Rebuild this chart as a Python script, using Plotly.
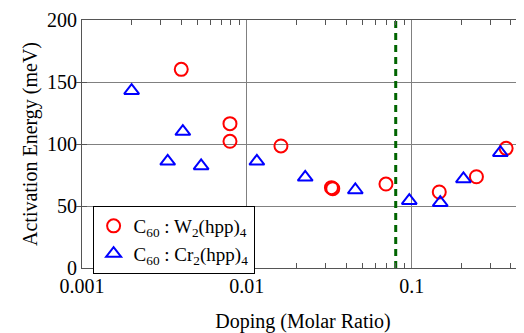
import math
import plotly.graph_objects as go

# Data
w_doping = [0.0040, 0.0079, 0.0079, 0.0161, 0.0326, 0.0332, 0.0698, 0.147, 0.247, 0.374]
w_energy = [160.2, 116.4, 102.2, 98.4, 64.8, 64.0, 67.7, 61.3, 73.6, 96.5]

cr_doping = [0.0020, 0.00331, 0.00409, 0.00528, 0.0115, 0.0226, 0.0455, 0.0967, 0.149, 0.206, 0.345]
cr_energy = [143.0, 86.0, 110.0, 82.3, 86.0, 73.1, 62.9, 54.3, 52.7, 71.8, 93.0]

threshold_doping = 0.08
y_limits = [0, 200]

x_tickvals = [0.001, 0.01, 0.1]
x_ticktext = ["0.001", "0.01", "0.1"]
x_minor = [m * 10 ** e for e in (-3, -2, -1) for m in range(2, 10)]

serif = "Liberation Serif, Times New Roman, serif"
fs = 20
x_range = [-3, math.log10(0.48)]

fig = go.Figure()

fig.add_trace(go.Scatter(
    x=[threshold_doping, threshold_doping], y=y_limits, mode="lines",
    line=dict(color="#006400", width=3, dash="7px,5px"),
    showlegend=False, hoverinfo="skip"))

fig.add_trace(go.Scatter(
    x=w_doping, y=w_energy, mode="markers",
    name="C<sub>60</sub> : W<sub>2</sub>(hpp)<sub>4</sub>",
    marker=dict(symbol="circle-open", size=13, color="#ff0000",
                line=dict(width=2, color="#ff0000"))))

fig.add_trace(go.Scatter(
    x=cr_doping, y=cr_energy, mode="markers",
    name="C<sub>60</sub> : Cr<sub>2</sub>(hpp)<sub>4</sub>",
    marker=dict(symbol="triangle-up-open", size=13, color="#0000ff",
                line=dict(width=2, color="#0000ff"))))

# invisible trace to carry the top (mirrored) axis with minor ticks
fig.add_trace(go.Scatter(
    x=[threshold_doping], y=[y_limits[0]], xaxis="x2", mode="markers",
    marker=dict(opacity=0), showlegend=False, hoverinfo="skip"))

fig.update_layout(
    width=516, height=325,
    margin=dict(l=74, r=0, t=12, b=65),
    paper_bgcolor="white", plot_bgcolor="white",
    font=dict(family=serif, size=fs, color="black"),
    legend=dict(x=0.024, y=0.25, xanchor="left", yanchor="top",
                bgcolor="white", bordercolor="black", borderwidth=1,
                font=dict(family=serif, size=19), tracegroupgap=0,
                itemwidth=30),
    xaxis2=dict(
        type="log", range=x_range, overlaying="x", side="top",
        showticklabels=False, showgrid=False, ticks="", zeroline=False,
        automargin=False,
        minor=dict(tickvals=x_minor, ticks="inside", ticklen=5, tickcolor="#555555", showgrid=False),
    ),
)

fig.layout.xaxis.update(
    type="log", range=x_range, automargin=False,
    tickvals=x_tickvals, ticktext=x_ticktext,
    showgrid=True, gridcolor="#808080", gridwidth=1,
    ticks="", showline=True, linecolor="#555555", linewidth=1, mirror=True,
    minor=dict(tickvals=x_minor, ticks="inside", ticklen=5, tickcolor="#555555", showgrid=False),
    title=dict(text="Doping (Molar Ratio)", font=dict(family=serif, size=fs), standoff=24),
    tickfont=dict(family=serif, size=fs), zeroline=False,
)

fig.update_yaxes(
    range=y_limits, dtick=50, automargin=False,
    showgrid=True, gridcolor="#808080", gridwidth=1,
    ticks="inside", ticklen=5, tickcolor="#555555",
    showline=True, linecolor="#555555", linewidth=1, mirror="allticks",
    title=dict(text="Activation Energy (meV)", font=dict(family=serif, size=fs), standoff=4),
    tickfont=dict(family=serif, size=fs), zeroline=False,
)

fig.write_html("out.html")
